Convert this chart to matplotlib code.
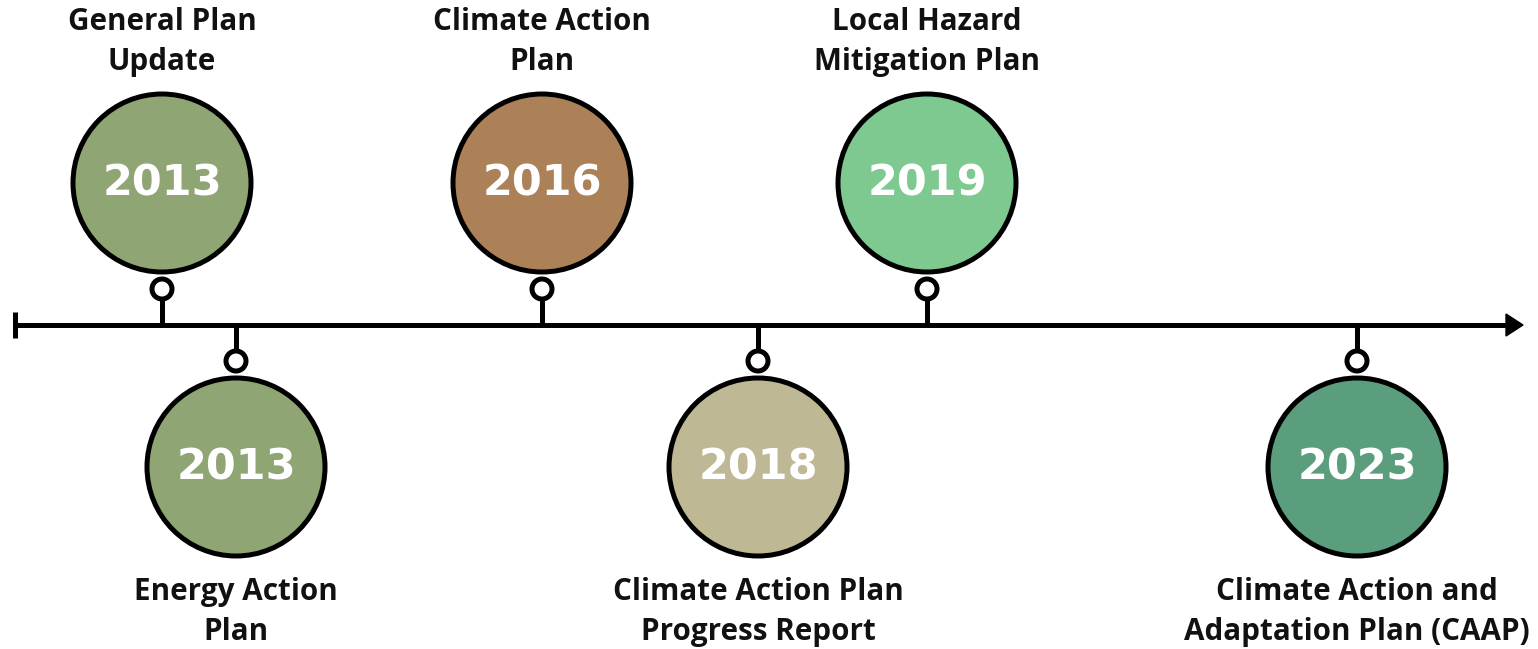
import matplotlib.pyplot as plt
from matplotlib.patches import Circle, Polygon

# timeline data
years = ["2013", "2013", "2016", "2018", "2019", "2023"]
titles = [
    "General Plan\nUpdate",
    "Energy Action\nPlan",
    "Climate Action\nPlan",
    "Climate Action Plan\nProgress Report",
    "Local Hazard\nMitigation Plan",
    "Climate Action and\nAdaptation Plan (CAAP)",
]
sides = ["top", "bottom", "top", "bottom", "top", "bottom"]
colors = ["#8fa574", "#8fa574", "#ad8158", "#bfb894", "#7dc98f", "#5a9e7e"]

# layout (pixel units of the canvas)
x_pos = [162, 236, 542, 758, 927, 1357]
W, H = 1538, 649
AXIS_Y = 325
R_BIG = 89
R_RING = 10
LW = 3.6

fig = plt.figure(figsize=(W / 100, H / 100), dpi=100)
ax = fig.add_axes([0, 0, 1, 1])
ax.set_xlim(0, W)
ax.set_ylim(H, 0)
ax.set_aspect("equal")
ax.axis("off")

# main axis with left tick and arrow head
ax.plot([15, 1510], [AXIS_Y, AXIS_Y], color="black", lw=LW, solid_capstyle="butt")
ax.plot([15, 15], [AXIS_Y - 13, AXIS_Y + 13], color="black", lw=LW, solid_capstyle="butt")
ax.add_patch(Polygon([[1506, AXIS_Y - 11], [1523, AXIS_Y], [1506, AXIS_Y + 11]],
                     closed=True, color="black"))

for yr, title, side, col, x in zip(years, titles, sides, colors, x_pos):
    s = -1 if side == "top" else 1
    cy = AXIS_Y + s * 142
    ry = AXIS_Y + s * 36
    # stem from axis to ring
    ax.plot([x, x], [AXIS_Y, ry - s * R_RING], color="black", lw=LW, solid_capstyle="butt", zorder=1)
    ax.add_patch(Circle((x, ry), R_RING, facecolor="white", edgecolor="black", lw=LW, zorder=2))
    ax.add_patch(Circle((x, cy), R_BIG, facecolor=col, edgecolor="black", lw=LW, zorder=3))
    ax.text(x, cy + 1, yr, ha="center", va="center", color="white", fontsize=31,
            fontweight="heavy", family="DejaVu Sans", zorder=4)
    ty = 42 if side == "top" else 612
    ax.text(x, ty, title, ha="center", va="center", color="#111111", fontsize=21.3,
            fontweight="bold", family="Open Sans", linespacing=1.42)

fig.savefig("out.png", dpi=100, facecolor="white")
